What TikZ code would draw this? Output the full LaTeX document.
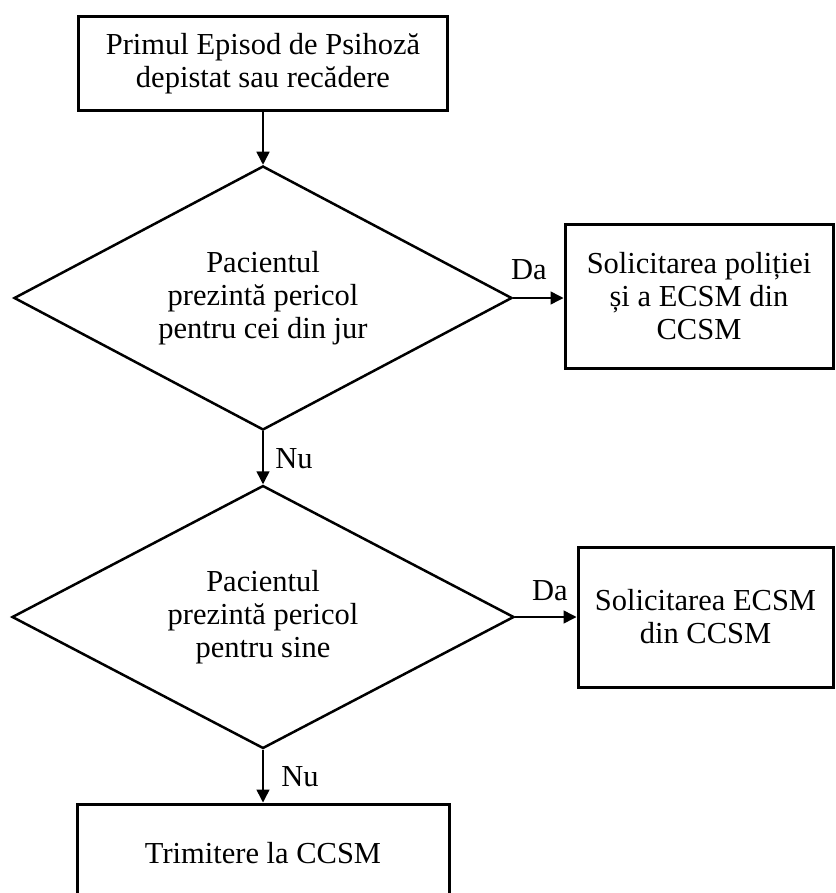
\documentclass[tikz,border=0pt]{standalone}
\usepackage{fontspec}
\setmainfont{Liberation Serif}
\usetikzlibrary{arrows.meta,shapes,positioning}

\begin{document}
\begin{tikzpicture}[x=1pt,y=-1pt,->,>={Triangle[length=13pt,width=13pt]},line width=1.5pt]
        \tikzstyle{every node}=[font=\fontsize{30.5}{33}\selectfont, align=center]
        \tikzstyle{box}=[rectangle, draw, line width=3pt, inner sep=0pt]
        \tikzstyle{decision}=[diamond, draw, line width=2.5pt, aspect=1.9, inner sep=0pt]

        \clip (0,0) rectangle (835,893);

        \node[box, minimum width=369pt, minimum height=94pt] (start) at (263,64) {Primul Episod de Psihoză\\depistat sau recădere};
        \node[decision, minimum width=498pt, minimum height=264pt] (q1) at (263,298) {Pacientul\\prezintă pericol\\pentru cei din jur};
        \node[box, minimum width=268pt, minimum height=143pt] (police) at (699,296.5) {Solicitarea poliției\\și a ECSM din\\CCSM};
        \node[decision, minimum width=502pt, minimum height=263pt] (q2) at (263,617) {Pacientul\\prezintă pericol\\pentru sine};
        \node[box, minimum width=255pt, minimum height=140pt] (ecsm) at (705.5,617) {Solicitarea ECSM\\din CCSM};
        \node[box, minimum width=372pt, minimum height=98pt] (ccsm) at (263,853) {Trimitere la CCSM};

        \node (da1) at (529,270) {Da};
        \node (nu1) at (294,459) {Nu};
        \node (da2) at (550,591) {Da};
        \node (nu2) at (300,777) {Nu};

        \draw (start.south) -- (q1.north);
        \draw (q1.east) -- (q1.east -| police.west);
        \draw (q1.south) -- (q2.north);
        \draw (q2.east) -- (q2.east -| ecsm.west);
        \draw (q2.south) -- (ccsm.north);

\end{tikzpicture}
\end{document}
